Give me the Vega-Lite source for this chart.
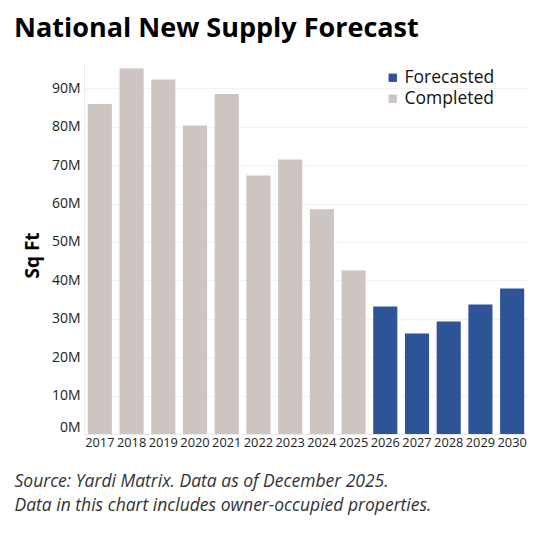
{
  "$schema": "https://vega.github.io/schema/vega-lite/v6.json",
  "width": 444,
  "height": 371,
  "autosize": {"type": "none"},
  "padding": {"left": 84, "top": 63, "right": 22, "bottom": 112},
  "background": "white",
  "title": {
    "text": "National New Supply Forecast",
    "anchor": "start",
    "frame": "group",
    "dx": -70,
    "offset": 20,
    "font": "Open Sans",
    "fontSize": 27,
    "fontWeight": "bold",
    "color": "#000000"
  },
  "data": {
    "values": [
      {"year": "2017", "sqft": 85.9, "status": "Completed"},
      {"year": "2018", "sqft": 95.2, "status": "Completed"},
      {"year": "2019", "sqft": 92.3, "status": "Completed"},
      {"year": "2020", "sqft": 80.3, "status": "Completed"},
      {"year": "2021", "sqft": 88.5, "status": "Completed"},
      {"year": "2022", "sqft": 67.3, "status": "Completed"},
      {"year": "2023", "sqft": 71.5, "status": "Completed"},
      {"year": "2024", "sqft": 58.5, "status": "Completed"},
      {"year": "2025", "sqft": 42.6, "status": "Completed"},
      {"year": "2026", "sqft": 33.2, "status": "Forecasted"},
      {"year": "2027", "sqft": 26.2, "status": "Forecasted"},
      {"year": "2028", "sqft": 29.3, "status": "Forecasted"},
      {"year": "2029", "sqft": 33.7, "status": "Forecasted"},
      {"year": "2030", "sqft": 37.9, "status": "Forecasted"}
    ]
  },
  "mark": {"type": "bar"},
  "encoding": {
    "x": {
      "field": "year",
      "type": "ordinal",
      "scale": {"paddingInner": 0.24, "paddingOuter": 0.12},
      "axis": {
        "labelAngle": 0,
        "labelFont": "Open Sans",
        "labelFontSize": 12.8,
        "labelColor": "#222222",
        "labelPadding": 2,
        "ticks": false,
        "domainColor": "#ebebeb",
        "title": ["Source: Yardi Matrix. Data as of December 2025.", "Data in this chart includes owner-occupied properties."],
        "titleFont": "Open Sans",
        "titleFontSize": 17.5,
        "titleFontStyle": "italic",
        "titleFontWeight": "normal",
        "titleColor": "#333333",
        "titleAnchor": "start",
        "titleAlign": "left",
        "titleBaseline": "top",
        "titleLineHeight": 24,
        "titleX": -70,
        "titleY": 38
      }
    },
    "y": {
      "field": "sqft",
      "type": "quantitative",
      "scale": {"domain": [0, 96.6], "nice": false},
      "axis": {
        "values": [0, 10, 20, 30, 40, 50, 60, 70, 80, 90],
        "labelExpr": "datum.value + 'M'",
        "labelFont": "Open Sans",
        "labelFontSize": 14,
        "labelColor": "#222222",
        "labelPadding": 4,
        "labelBaseline": {"condition": {"test": "datum.value == 0", "value": "bottom"}, "value": "middle"},
        "ticks": false,
        "domainColor": "#ebebeb",
        "gridColor": "#f2f2f2",
        "title": "Sq Ft",
        "titleFont": "Open Sans",
        "titleFontSize": 19,
        "titleFontWeight": "bold",
        "titleColor": "#000000",
        "titleX": -52,
        "titleY": 192,
        "titleAlign": "center",
        "titleBaseline": "middle",
        "titleAngle": -90
      }
    },
    "color": {
      "field": "status",
      "type": "nominal",
      "scale": {"domain": ["Forecasted", "Completed"], "range": ["#2d5497", "#cdc5c2"]},
      "legend": {
        "orient": "none",
        "legendX": 300,
        "legendY": 6,
        "title": null,
        "symbolType": "square",
        "symbolSize": 70,
        "symbolOpacity": 1,
        "labelFont": "Open Sans",
        "labelFontSize": 17.5,
        "labelColor": "#111111",
        "rowPadding": 2,
        "labelOffset": 3
      }
    }
  },
  "config": {"view": {"stroke": null}}
}
